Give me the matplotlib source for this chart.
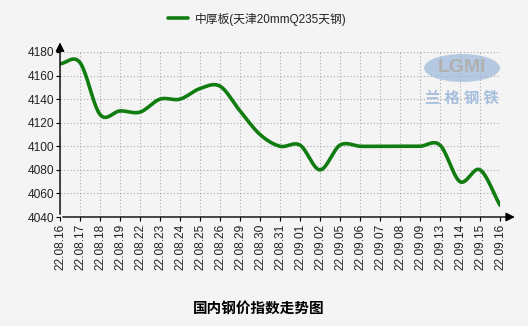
"""国内钢价指数走势图：中厚板(天津20mmQ235天钢)."""
import numpy as np
import matplotlib
matplotlib.use('Agg')
import matplotlib.pyplot as plt
from matplotlib.patches import Ellipse

plt.rcParams['font.family'] = ['Liberation Sans', 'Noto Sans CJK SC', 'DejaVu Sans']

dates = ['22.08.16', '22.08.17', '22.08.18', '22.08.19', '22.08.22', '22.08.23',
         '22.08.24', '22.08.25', '22.08.26', '22.08.29', '22.08.30', '22.08.31',
         '22.09.01', '22.09.02', '22.09.05', '22.09.06', '22.09.07', '22.09.08',
         '22.09.09', '22.09.13', '22.09.14', '22.09.15', '22.09.16']
prices = [4170, 4171, 4127, 4130, 4129, 4140, 4140, 4149, 4151, 4130, 4110, 4100,
          4101, 4080, 4101, 4100, 4100, 4100, 4100, 4101, 4070, 4080, 4050]
series_name = '中厚板(天津20mmQ235天钢)'
y_ticks = [4040, 4060, 4080, 4100, 4120, 4140, 4160, 4180]
title = '国内钢价指数走势图'


def smooth(y, n=20):
    """Catmull-Rom spline through the points, only used to draw the line."""
    y = np.asarray(y, dtype=float)
    x = np.arange(len(y))
    m = np.gradient(y)
    xs, ys = [], []
    t = np.linspace(0, 1, n, endpoint=False)
    h00 = 2 * t**3 - 3 * t**2 + 1
    h10 = t**3 - 2 * t**2 + t
    h01 = -2 * t**3 + 3 * t**2
    h11 = t**3 - t**2
    for i in range(len(y) - 1):
        xs.append(x[i] + t)
        ys.append(h00 * y[i] + h10 * m[i] + h01 * y[i + 1] + h11 * m[i + 1])
    xs.append([x[-1]])
    ys.append([y[-1]])
    return np.concatenate(xs), np.concatenate(ys)


bg = '#f4f4f4'
fig = plt.figure(figsize=(5.28, 3.26), dpi=100, facecolor=bg)
ax = fig.add_axes([60 / 528, 1 - 217 / 326, 440 / 528, 165 / 326], facecolor=bg)

x = np.arange(len(dates))
sx, sy = smooth(prices)
ax.plot(sx, sy, color='#117d11', lw=2.6, solid_capstyle='round', label=series_name, zorder=3)

ax.set_xlim(0, len(dates) - 1)
ax.set_ylim(y_ticks[0], y_ticks[-1])
ax.set_xticks(x)
ax.set_xticklabels(dates, rotation=90, fontsize=8.6, color='#222222')
ax.set_yticks(y_ticks)
ax.set_yticklabels([str(v) for v in y_ticks], fontsize=8.6, color='#222222')
ax.tick_params(length=3, width=0.8, pad=1.5, color='black')
ax.grid(True, color='#a8a8a8', lw=0.8, linestyle=(0, (1, 2)))
for s in ax.spines.values():
    s.set_visible(False)

# axes with arrow heads
ax.annotate('', xy=(0, 1.075), xytext=(0, 0), xycoords='axes fraction',
            arrowprops=dict(arrowstyle='-|>', color='black', lw=1, mutation_scale=13))
ax.annotate('', xy=(1.04, 0), xytext=(0, 0), xycoords='axes fraction',
            arrowprops=dict(arrowstyle='-|>', color='black', lw=1, mutation_scale=13))

# watermark
fig.patches.append(Ellipse((462 / 528, 1 - 68 / 326), 76 / 528, 28 / 326,
                           transform=fig.transFigure, facecolor='#9cb8dc',
                           edgecolor='none', alpha=0.7, zorder=4))
fig.text(462 / 528, 1 - 68 / 326, 'LGMI', ha='center', va='center', fontsize=14,
         fontweight='bold', color='#b0b0b0', zorder=5)
fig.text(462 / 528, 1 - 99 / 326, '兰 格 钢 铁', ha='center', va='center', fontsize=11,
         fontweight='bold', style='italic', color='#a6bedd', zorder=5)

leg = fig.legend(loc='center', bbox_to_anchor=(257 / 528, 1 - 19 / 326), frameon=False,
                 fontsize=8.5, handlelength=1.7, handletextpad=0.6)
for t in leg.get_texts():
    t.set_color('#222222')

fig.text(259 / 528, 1 - 308 / 326, title, ha='center', va='center', fontsize=10.5,
         fontweight='bold', family=['Noto Sans CJK SC'], color='black')

fig.savefig('out.png', dpi=100, facecolor=bg)
